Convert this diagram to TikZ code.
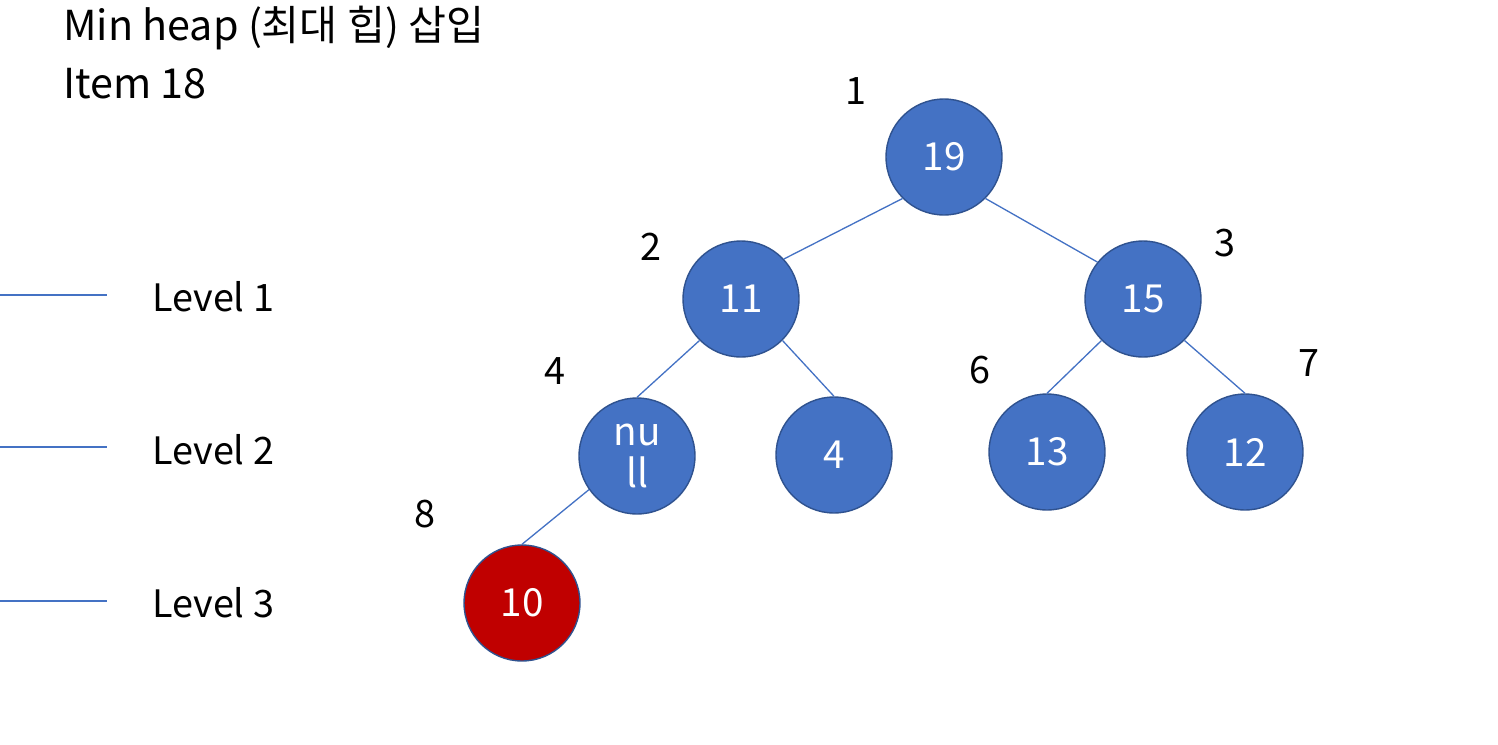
\documentclass[tikz,border=0pt]{standalone}
\usepackage{fontspec}
\setmainfont{Noto Sans CJK KR}
\definecolor{heapblue}{HTML}{4472C4}
\definecolor{heapedge}{HTML}{2F528F}
\definecolor{heapred}{HTML}{C00000}

\begin{document}
\begin{tikzpicture}[x=0.02cm, y=-0.02cm,
  heapnode/.style={circle, draw=heapedge, line width=0.8pt, fill=heapblue, text=white,
    minimum size=2.32cm, inner sep=0pt, font=\fontsize{22}{24.5}\selectfont, align=center},
  newnode/.style={heapnode, fill=heapred},
  tree/.style={heapblue, line width=0.75pt},
  idx/.style={font=\fontsize{21.5}{26}\selectfont},
  lvl/.style={font=\fontsize{21.5}{26}\selectfont, anchor=west}]
  \useasboundingbox (0,0) rectangle (1498,744);

  \node[anchor=base west, font=\fontsize{23.5}{28}\selectfont, inner sep=0pt] (title) at (63,40) {Min heap (최대 힙) 삽입};
  \node[anchor=base west, font=\fontsize{23.5}{28}\selectfont, inner sep=0pt] (item) at (63,98) {Item 18};

  % level guides
  \coordinate (l1a) at (0,295);   \coordinate (l1b) at (107,295);
  \coordinate (l2a) at (0,447);   \coordinate (l2b) at (107,447);
  \coordinate (l3a) at (0,601);   \coordinate (l3b) at (107,601);
  \draw[tree] (l1a) -- (l1b);
  \draw[tree] (l2a) -- (l2b);
  \draw[tree] (l3a) -- (l3b);
  \node[lvl, inner sep=0pt] (lv1) at (152,297) {Level 1};
  \node[lvl, inner sep=0pt] (lv2) at (152,450) {Level 2};
  \node[lvl, inner sep=0pt] (lv3) at (152,603) {Level 3};

  % heap
  \node[heapnode] (n1) at (944,157) {19};
  \node[heapnode] (n2) at (741,299) {11};
  \node[heapnode] (n3) at (1143,299) {15};
  \node[heapnode, font=\fontsize{22}{24.4}\selectfont] (n4) at (637,456) {nu\\ll};
  \node[heapnode] (n5) at (834,455) {4};
  \node[heapnode] (n6) at (1047,452) {13};
  \node[heapnode] (n7) at (1245,452) {12};
  \node[newnode] (n8) at (522,603) {10};

  \draw[tree] (n1.225) -- (n2.43);
  \draw[tree] (n1.315) -- (n3.141);
  \draw[tree] (n2.225) -- (n4.north);
  \draw[tree] (n2.315) -- (n5.north);
  \draw[tree] (n3.225) -- (n6.north);
  \draw[tree] (n3.315) -- (n7.north);
  \draw[tree] (n4.215) -- (n8.north);

  % array indices
  \node[idx] (i1) at (856,91) {1};
  \node[idx] (i2) at (651,247) {2};
  \node[idx] (i3) at (1225,243) {3};
  \node[idx] (i4) at (555,371) {4};
  \node[idx] (i6) at (980,370) {6};
  \node[idx] (i7) at (1309,363) {7};
  \node[idx] (i8) at (425,514) {8};
\end{tikzpicture}
\end{document}
